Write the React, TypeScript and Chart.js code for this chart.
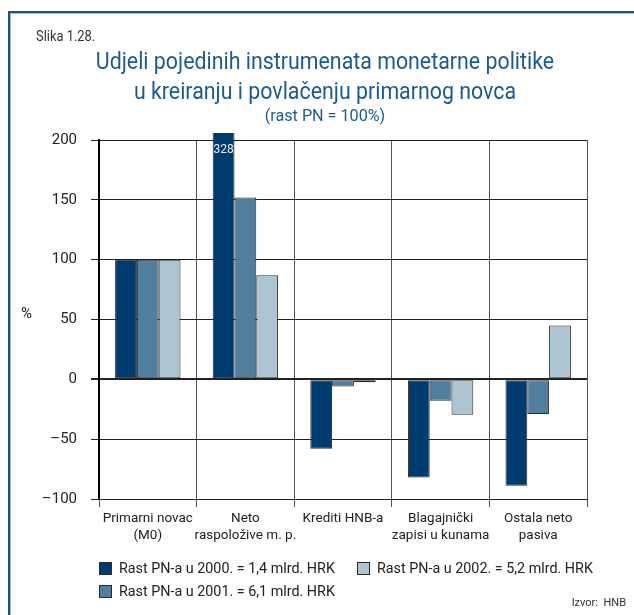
import React, { useEffect, useRef } from "react";
import { Chart, registerables } from "chart.js";
Chart.register(...registerables);

const categories: string[][] = [
  ["Primarni novac", "(M0)"],
  ["Neto", "raspoložive m. p."],
  ["Krediti HNB-a"],
  ["Blagajnički", "zapisi u kunama"],
  ["Ostala neto", "pasiva"],
];
const seriesLabels = [
  "Rast PN-a u 2000. = 1,4 mlrd. HRK",
  "Rast PN-a u 2001. = 6,1 mlrd. HRK",
  "Rast PN-a u 2002. = 5,2 mlrd. HRK",
];
const values2000 = [100, 328, -58, -82, -89];
const values2001 = [100, 152, -6, -18, -29];
const values2002 = [100, 87, -2.5, -29.5, 45];
const seriesColors = ["#003b6f", "#527f9e", "#adc4d2"];
const yMin = -100;
const yMax = 200;
const yStep = 50;

const FONT = "Roboto, 'Noto Sans', sans-serif";

const overflowLabels = {
  id: "overflowLabels",
  afterDatasetsDraw(chart: any) {
    const { ctx, chartArea } = chart;
    const yScale = chart.scales.y;
    chart.data.datasets.forEach((ds: any, di: number) => {
      const meta = chart.getDatasetMeta(di);
      ds.data.forEach((v: number, i: number) => {
        if (v > yScale.max) {
          const bar = meta.data[i];
          ctx.save();
          ctx.fillStyle = "#e8eef4";
          ctx.font = `12px ${FONT}`;
          ctx.textAlign = "center";
          ctx.textBaseline = "middle";
          ctx.fillText(String(v), bar.x, chartArea.top + 10);
          ctx.restore();
        }
      });
    });
  },
};

export default function App() {
  const ref = useRef<HTMLCanvasElement>(null);
  useEffect(() => {
    if (!ref.current) return;
    const data = [values2000, values2001, values2002];
    const chart = new Chart(ref.current, {
      type: "bar",
      data: {
        labels: categories,
        datasets: data.map((d, i) => ({
          label: seriesLabels[i],
          data: d,
          backgroundColor: seriesColors[i],
          borderColor: "#2a2a2a",
          borderWidth: 1,
          borderSkipped: false,
          categoryPercentage: 0.67,
          barPercentage: 1,
          clip: { left: 0, top: 7, right: 0, bottom: 0 },
        })),
      },
      options: {
        animation: false,
        responsive: false,
        maintainAspectRatio: false,
        layout: { padding: { top: 140, right: 47, bottom: 61, left: 0 } },
        plugins: {
          legend: { display: false },
          title: { display: false },
          tooltip: { enabled: false },
        },
        scales: {
          x: {
            grid: { color: "#555", lineWidth: 1, tickLength: 8, offset: true },
            border: { display: true, color: "#222", width: 1 },
            ticks: {
              color: "#222",
              font: { family: FONT, size: 13.5 },
              padding: 4,
              maxRotation: 0,
              autoSkip: false,
            },
            afterFit: (s: any) => {
              s.height = 55;
            },
          },
          y: {
            min: yMin,
            max: yMax,
            ticks: {
              stepSize: yStep,
              color: "#222",
              font: { family: FONT, size: 15 },
              padding: 14,
              callback: (v: any) => (v < 0 ? "–" + Math.abs(v) : String(v)),
            },
            grid: {
              color: "#222",
              lineWidth: (c: any) => (c.tick && c.tick.value === 0 ? 2 : 1),
              tickLength: 8,
            },
            border: { color: "#000", width: 2 },
            afterFit: (s: any) => {
              s.width = 99;
            },
          },
        },
      },
      plugins: [overflowLabels],
    });
    return () => chart.destroy();
  }, []);

  const legendOrder = [0, 2, 1];
  const legendPos = [
    { left: 99, top: 559 },
    { left: 357, top: 559 },
    { left: 99, top: 582 },
  ];

  return (
    <div
      style={{
        position: "absolute",
        left: 0,
        top: 0,
        width: 634,
        height: 615,
        background: "#fff",
        fontFamily: FONT,
        overflow: "hidden",
      }}
    >
      <div style={{ position: "absolute", left: 8, top: 11, width: 2, height: 604, background: "#1f4f8a" }} />
      <div style={{ position: "absolute", left: 10, top: 11, width: 1, height: 604, background: "#a9c0d8" }} />
      <div style={{ position: "absolute", left: 8, top: 11, width: 626, height: 2, background: "#1f4f8a" }} />
      <div style={{ position: "absolute", left: 10, top: 13, width: 624, height: 1, background: "#a9c0d8" }} />
      <canvas
        ref={ref}
        width={634}
        height={615}
        style={{ position: "absolute", left: 0, top: 0, display: "block" }}
      />
      <div
        style={{
          position: "absolute",
          left: 36,
          top: 27,
          fontSize: 15,
          color: "#333",
          transform: "scaleX(0.86)",
          transformOrigin: "left center",
          whiteSpace: "nowrap",
        }}
      >
        Slika 1.28.
      </div>
      <div
        style={{
          position: "absolute",
          left: 0,
          width: 650,
          top: 46,
          textAlign: "center",
          fontSize: 24,
          lineHeight: "30px",
          color: "#1d5a92",
          transform: "scaleX(0.89)",
          transformOrigin: "center center",
          whiteSpace: "nowrap",
        }}
      >
        Udjeli pojedinih instrumenata monetarne politike
        <br />u kreiranju i povlačenju primarnog novca
      </div>
      <div
        style={{
          position: "absolute",
          left: 0,
          width: 650,
          top: 105,
          textAlign: "center",
          fontSize: 17,
          color: "#1d5a92",
          transform: "scaleX(0.95)",
          transformOrigin: "center center",
        }}
      >
        (rast PN = 100%)
      </div>
      <div style={{ position: "absolute", left: 21, top: 304, fontSize: 15, color: "#222" }}>%</div>
      {legendOrder.map((si, k) => (
        <div
          key={si}
          style={{
            position: "absolute",
            left: legendPos[k].left,
            top: legendPos[k].top,
            display: "flex",
            alignItems: "center",
            fontSize: 15,
            color: "#222",
            whiteSpace: "nowrap",
          }}
        >
          <span
            style={{
              display: "inline-block",
              width: 11,
              height: 11,
              background: seriesColors[si],
              border: "1px solid #2a2a2a",
              marginRight: 7,
            }}
          />
          <span style={{ display: "inline-block", transform: "scaleX(0.955)", transformOrigin: "left center" }}>
            {seriesLabels[si]}
          </span>
        </div>
      ))}
      <div style={{ position: "absolute", right: 8, top: 596, fontSize: 11, color: "#333" }}>Izvor:&nbsp; HNB</div>
    </div>
  );
}
